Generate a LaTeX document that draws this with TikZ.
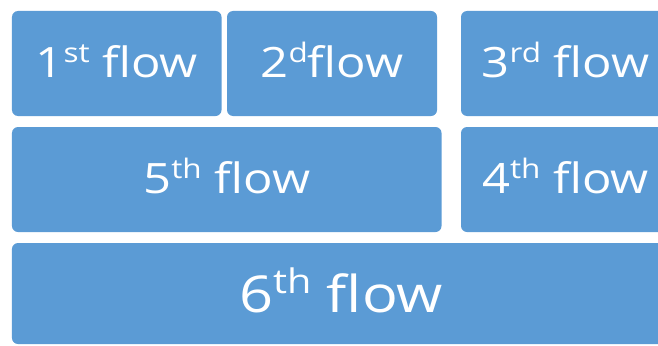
\documentclass[tikz,border=0pt]{standalone}
\usepackage{fontspec}
\setmainfont{Open Sans}
\definecolor{flowblue}{HTML}{5B9BD5}
% superscripts for the two label sizes
\newcommand\supA[1]{\raisebox{15bp}{\fontsize{27}{30}\selectfont #1}}
\newcommand\supB[1]{\raisebox{19bp}{\fontsize{34}{38}\selectfont #1}}
% labels are set a little wider than the font's natural width
\newcommand\wide[1]{\scalebox{1.17}[1]{#1}}
\tikzset{
  flowbox/.style={fill=flowblue, draw=none, rounded corners=6bp, inner sep=0pt,
    text=white, minimum height=105bp, text height=27bp, text depth=0bp,
    font=\fontsize{42}{50}\selectfont},
  bigflow/.style={flowbox, minimum height=101bp, text height=37bp,
    font=\fontsize{51}{60}\selectfont}
}
\begin{document}
\begin{tikzpicture}[x=1bp,y=1bp]
  \useasboundingbox (0,0) rectangle (658,345);
  \node[flowbox, minimum width=209.5bp] (f1) at (116.75,281.5) {\wide{1\supA{st} flow}};
  \node[flowbox, minimum width=210bp] (f2) at (332,281.5) {\wide{2\supA{d}flow}};
  \node[flowbox, minimum width=209bp] (f3) at (565.5,281.5) {\wide{3\supA{rd} flow}};
  \node[flowbox, minimum width=429.5bp] (f5) at (226.75,165.5) {\wide{5\supA{th} flow}};
  \node[flowbox, minimum width=209bp] (f4) at (565.5,165.5) {\wide{4\supA{th} flow}};
  \node[bigflow, minimum width=658bp] (f6) at (341,51.5) {\wide{6\supB{th} flow}};
\end{tikzpicture}
\end{document}
